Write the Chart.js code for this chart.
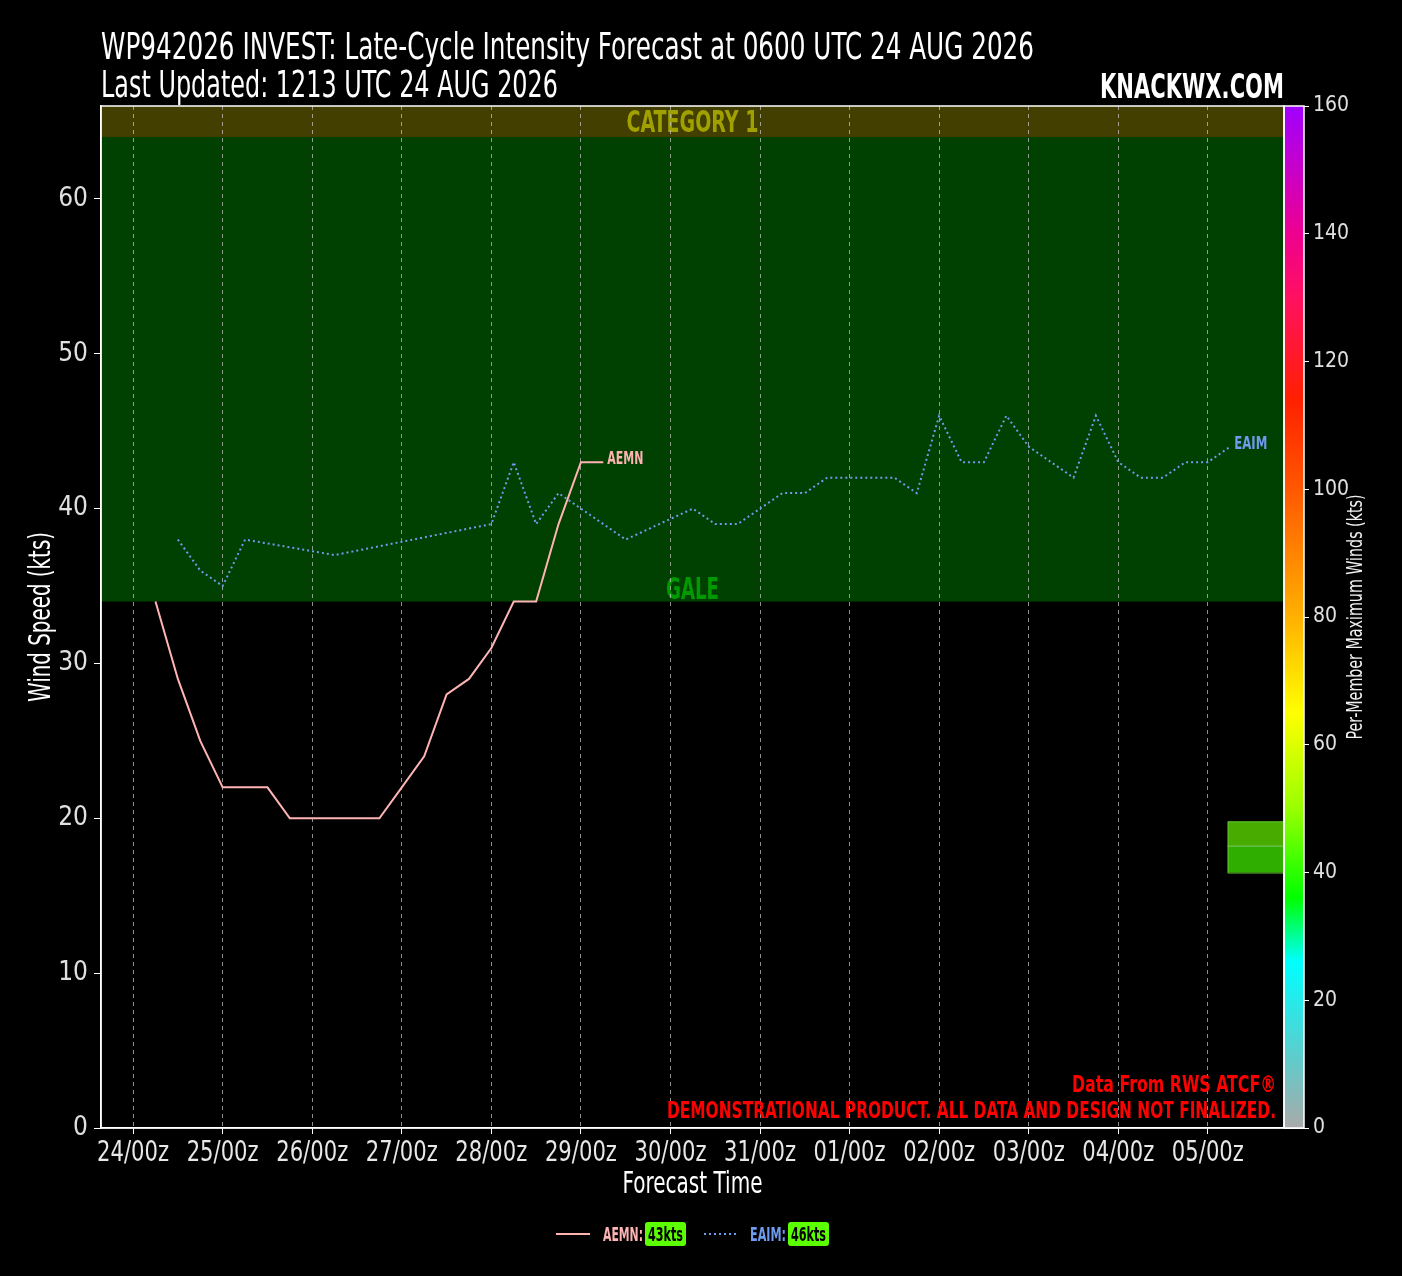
<!DOCTYPE html>
<html lang="en">
<head>
<meta charset="UTF-8">
<title>WP942026 Late-Cycle Intensity Forecast</title>
<script src="https://cdn.jsdelivr.net/npm/chart.js"></script>
<style>
    html, body { margin: 0; padding: 0; background: #000; }
    #wrap { width: 1402px; height: 1276px; position: relative; }
</style>
</head>
<body>
<div id="wrap"><canvas id="grafica"></canvas></div>

<script>
    // forecast hours counted from 24/00z
    const TICK_HOURS = [0, 24, 48, 72, 96, 120, 144, 168, 192, 216, 240, 264, 288];
    const TICK_LABELS = ['24/00z', '25/00z', '26/00z', '27/00z', '28/00z', '29/00z', '30/00z',
                         '31/00z', '01/00z', '02/00z', '03/00z', '04/00z', '05/00z'];
    const Y_TICKS = [0, 10, 20, 30, 40, 50, 60];
    const COLORBAR_TICKS = [0, 20, 40, 60, 80, 100, 120, 140, 160];

    const AEMN_HOURS = [6, 12, 18, 24, 30, 36, 42, 48, 54, 60, 66, 72, 78, 84, 90, 96, 102, 108, 114, 120, 126];
    const AEMN_KTS   = [34, 29, 25, 22, 22, 22, 20, 20, 20, 20, 20, 22, 24, 28, 29, 31, 34, 34, 39, 43, 43];

    const EAIM_HOURS = [12, 18, 24, 30, 54, 96, 102, 108, 114, 132, 150, 156, 162, 174, 180, 186,
                        204, 210, 216, 222, 228, 234, 240, 252, 258, 264, 270, 276, 282, 288, 294];
    const EAIM_KTS   = [38, 36, 35, 38, 37, 39, 43, 39, 41, 38, 40, 39, 39, 41, 41, 42,
                        42, 41, 46, 43, 43, 46, 44, 42, 46, 43, 42, 42, 43, 43, 44];

    const MAX_KTS = [43, 46];           // legend values
    const BOX_START_HOUR = 293.3;       // member spread box at the end
    const BOX_KTS = [16.5, 18.2, 19.8]; // low, median, high

    const BAND_NAMES = ['GALE', 'CATEGORY 1'];
    const BAND_LOW   = [34, 64];
    const BAND_HIGH  = [64, 83];

    const COLORBAR_KTS    = [0, 10, 26, 36, 50, 65, 80, 100, 114, 130, 140, 150, 160];
    const COLORBAR_COLORS = ['#aaaaaa', '#66c8c8', '#00ffff', '#00ff00', '#99ff00', '#ffff00', '#ffb000',
                             '#ff5800', '#ff2000', '#ff1060', '#ee0090', '#c800c8', '#a000ff'];

    const FONT = '"Liberation Sans Narrow", "DejaVu Sans Condensed", "Roboto Condensed", "DejaVu Sans", sans-serif';
    Chart.defaults.font.family = FONT;

    // draw text squeezed/stretched to a given width (the original uses a condensed face)
    function fitText(ctx, text, x, y, font, color, width, align, kFixed) {
        ctx.save();
        ctx.font = font;
        ctx.fillStyle = color;
        ctx.textBaseline = 'alphabetic';
        ctx.textAlign = 'left';
        const w = ctx.measureText(text).width;
        const k = kFixed || (width ? width / w : 1);
        let left = x;
        if (align === 'right') left = x - w * k;
        if (align === 'center') left = x - w * k / 2;
        ctx.translate(left, y);
        ctx.scale(k, 1);
        ctx.fillText(text, 0, 0);
        ctx.restore();
    }

    const bandsPlugin = {
        id: 'bands',
        beforeDraw(chart) {
            const { ctx, chartArea: a, scales: { y } } = chart;
            ctx.save();
            ctx.fillStyle = '#000';
            ctx.fillRect(0, 0, chart.width, chart.height);
            const fills = ['#004000', '#423f00'];
            BAND_NAMES.forEach((name, i) => {
                const top = Math.max(a.top, y.getPixelForValue(BAND_HIGH[i]));
                const bot = Math.min(a.bottom, y.getPixelForValue(BAND_LOW[i]));
                ctx.fillStyle = fills[i];
                ctx.fillRect(a.left, top, a.right - a.left, bot - top);
            });
            const cx = (a.left + a.right) / 2;
            fitText(ctx, 'GALE', cx, y.getPixelForValue(34) - 3, 'bold 30px ' + FONT, '#009a00', 53, 'center');
            fitText(ctx, 'CATEGORY 1', cx, y.getPixelForValue(64) - 5, 'bold 30px ' + FONT, '#a0a000', 132, 'center');
            ctx.restore();
        },
        afterDatasetsDraw(chart) {
            const { ctx, scales: { x, y } } = chart;
            // series end labels
            const ends = [
                ['AEMN', AEMN_HOURS, AEMN_KTS, '#ffb4b4', 36],
                ['EAIM', EAIM_HOURS, EAIM_KTS, '#6f9bf0', 33]
            ];
            ends.forEach(([name, hrs, kts, col, w]) => {
                const px = x.getPixelForValue(hrs[hrs.length - 1]);
                const py = y.getPixelForValue(kts[kts.length - 1]);
                fitText(ctx, name, px + 4, py + 2, 'bold 17px ' + FONT, col, w, 'left');
            });
        },
        afterDraw(chart) {
            const { ctx, chartArea: a, scales: { x, y, y2 } } = chart;
            ctx.save();

            // member spread box
            const bx = x.getPixelForValue(BOX_START_HOUR);
            const yLo = y.getPixelForValue(BOX_KTS[0]);
            const yMd = y.getPixelForValue(BOX_KTS[1]);
            const yHi = y.getPixelForValue(BOX_KTS[2]);
            ctx.fillStyle = '#48ac00';
            ctx.fillRect(bx, yHi, a.right - bx, yMd - yHi);
            ctx.fillStyle = '#30ae00';
            ctx.fillRect(bx, yMd, a.right - bx, yLo - yMd);
            ctx.strokeStyle = '#5cbf2a';
            ctx.lineWidth = 1;
            ctx.strokeRect(bx + 0.5, yHi + 0.5, a.right - bx, yLo - yHi);
            ctx.strokeStyle = '#80d060';
            ctx.beginPath();
            ctx.moveTo(bx, yMd);
            ctx.lineTo(a.right, yMd);
            ctx.stroke();

            // colorbar
            const cbL = a.right, cbW = 20;
            const grad = ctx.createLinearGradient(0, y2.getPixelForValue(0), 0, y2.getPixelForValue(160));
            COLORBAR_KTS.forEach((k, i) => grad.addColorStop(k / 160, COLORBAR_COLORS[i]));
            ctx.fillStyle = grad;
            ctx.fillRect(cbL, a.top, cbW, a.bottom - a.top);
            ctx.strokeStyle = '#ffffff';
            ctx.lineWidth = 1.5;
            ctx.strokeRect(cbL, a.top, cbW, a.bottom - a.top);

            // plot frame
            ctx.strokeRect(a.left, a.top, a.right - a.left, a.bottom - a.top);

            // x tick labels, placed by the x scale, condensed like the original
            ctx.font = '28px ' + FONT;
            const kx = 72 / ctx.measureText(TICK_LABELS[0]).width;
            x.ticks.forEach(t => {
                const lbl = TICK_LABELS[TICK_HOURS.indexOf(t.value)];
                fitText(ctx, lbl, x.getPixelForValue(t.value), a.bottom + 33, '28px ' + FONT, '#e8e8e8', 0, 'center', kx);
            });

            // axis titles
            fitText(ctx, 'Forecast Time', (a.left + a.right) / 2, 1193, '30px ' + FONT, '#ffffff', 140, 'center');
            ctx.save();
            ctx.translate(50, (a.top + a.bottom) / 2);
            ctx.rotate(-Math.PI / 2);
            fitText(ctx, 'Wind Speed (kts)', 0, 0, '30px ' + FONT, '#ffffff', 170, 'center');
            ctx.restore();

            // colorbar title
            ctx.save();
            ctx.translate(1362, (a.top + a.bottom) / 2);
            ctx.rotate(-Math.PI / 2);
            fitText(ctx, 'Per-Member Maximum Winds (kts)', 0, 0, '21px ' + FONT, '#f0f0f0', 245, 'center');
            ctx.restore();

            // header
            fitText(ctx, 'WP942026 INVEST: Late-Cycle Intensity Forecast at 0600 UTC 24 AUG 2026',
                    101, 59, '38px ' + FONT, '#ffffff', 933, 'left');
            fitText(ctx, 'Last Updated: 1213 UTC 24 AUG 2026', 101, 97, '38px ' + FONT, '#ffffff', 457, 'left');
            fitText(ctx, 'KNACKWX.COM', a.right, 98, 'bold 34px ' + FONT, '#ffffff', 184, 'right');

            // disclaimer
            fitText(ctx, 'Data From RWS ATCF\u00ae', 1276, 1092, 'bold 23px ' + FONT, '#ff0000', 204, 'right');
            fitText(ctx, 'DEMONSTRATIONAL PRODUCT. ALL DATA AND DESIGN NOT FINALIZED.', 1276, 1118,
                    'bold 23px ' + FONT, '#ff0000', 609, 'right');

            // legend
            const ly = 1234;
            ctx.lineWidth = 2;
            ctx.strokeStyle = '#ffb4b4';
            ctx.beginPath(); ctx.moveTo(556, ly); ctx.lineTo(590, ly); ctx.stroke();
            fitText(ctx, 'AEMN:', 603, ly + 7, 'bold 19px ' + FONT, '#ffb4b4', 40, 'left');
            ctx.strokeStyle = '#6f9bf0';
            ctx.setLineDash([2, 3]);
            ctx.beginPath(); ctx.moveTo(704, ly); ctx.lineTo(738, ly); ctx.stroke();
            ctx.setLineDash([]);
            fitText(ctx, 'EAIM:', 750, ly + 7, 'bold 19px ' + FONT, '#6f9bf0', 36, 'left');
            [[645, MAX_KTS[0]], [788, MAX_KTS[1]]].forEach(([bxl, v]) => {
                ctx.fillStyle = '#5cff00';
                ctx.beginPath();
                ctx.roundRect(bxl, ly - 12, 41, 24, 3);
                ctx.fill();
                fitText(ctx, v + 'kts', bxl + 20.5, ly + 7, 'bold 19px ' + FONT, '#000000', 35, 'center');
            });
            ctx.restore();
        }
    };

    const ctx = document.getElementById('grafica').getContext('2d');
    const myChart = new Chart(ctx, {
        type: 'line',
        data: {
            datasets: [{
                label: 'AEMN',
                data: AEMN_HOURS.map((h, i) => ({ x: h, y: AEMN_KTS[i] })),
                borderColor: '#ffb4b4',
                borderWidth: 2,
                pointRadius: 0,
                tension: 0
            }, {
                label: 'EAIM',
                data: EAIM_HOURS.map((h, i) => ({ x: h, y: EAIM_KTS[i] })),
                borderColor: '#6f9bf0',
                borderWidth: 2,
                borderDash: [2, 3],
                pointRadius: 0,
                tension: 0
            }]
        },
        options: {
            responsive: true,
            maintainAspectRatio: false,
            animation: false,
            devicePixelRatio: 1,
            layout: { padding: { top: 106, right: 0, bottom: 80, left: 0 } },
            plugins: {
                legend: { display: false },
                tooltip: { enabled: false }
            },
            scales: {
                x: {
                    type: 'linear',
                    min: -8.6,
                    max: 308.4,
                    afterFit: s => { s.height = 68; },
                    afterBuildTicks: s => { s.ticks = TICK_HOURS.map(v => ({ value: v })); },
                    ticks: { display: false },
                    grid: {
                        color: 'rgba(190,190,190,0.75)',
                        tickColor: '#ffffff',
                        tickBorderDash: [],
                        tickLength: 6,
                        lineWidth: 1
                    },
                    // in Chart.js v4 the border dash also sets the grid line dash
                    border: { color: '#ffffff', width: 1.5, dash: [4, 4] }
                },
                y: {
                    min: 0,
                    max: 66,
                    afterFit: s => { s.width = 101; },
                    afterBuildTicks: s => { s.ticks = Y_TICKS.map(v => ({ value: v })); },
                    ticks: { color: '#e0e0e0', font: { size: 26 }, padding: 6 },
                    grid: { drawOnChartArea: false, tickColor: '#ffffff', tickLength: 7 },
                    border: { color: '#ffffff', width: 1.5 }
                },
                y2: {
                    position: 'right',
                    min: 0,
                    max: 160,
                    afterFit: s => { s.width = 118; },
                    afterBuildTicks: s => { s.ticks = COLORBAR_TICKS.map(v => ({ value: v })); },
                    ticks: { color: '#e0e0e0', font: { size: 21 }, padding: 4 },
                    grid: { drawOnChartArea: false, tickColor: '#ffffff', tickLength: 25 },
                    border: { display: false }
                }
            }
        },
        plugins: [bandsPlugin]
    });
</script>
</body>
</html>
